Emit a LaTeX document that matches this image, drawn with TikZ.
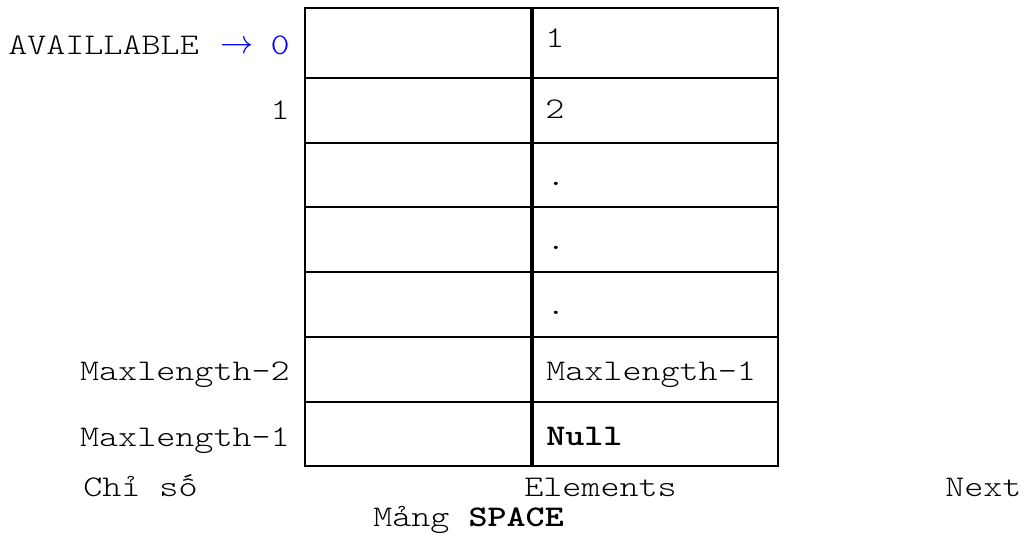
\documentclass[tikz,border=0pt]{standalone}
\usepackage{fontspec}
\setmainfont{lmmonolt10-regular.otf}[BoldFont=lmmonolt10-bold.otf,FakeStretch=1.21]
\begin{document}
\begin{tikzpicture}[x=0.75pt,y=-0.75pt,
  txt/.style={inner sep=0pt,font=\fontsize{22.5}{27}\selectfont},
  lbl/.style={txt,anchor=base east},
  val/.style={txt,anchor=base west},
  grid/.style={line width=1.5pt},
  divider/.style={line width=3pt}]
\useasboundingbox (0,0) rectangle (1032,535);
% table grid
\draw[grid] (305,8) rectangle (778,466);
\foreach \y in {78,143,207,272,337,402} \draw[grid] (305,\y) -- (778,\y);
\draw[divider] (532,8) -- (532,466);
% left labels
\node[txt,anchor=base west] (avail) at (8,55) {AVAILLABLE};
\node[inner sep=0pt,text=blue,font=\fontsize{23.5}{25}\selectfont] (arr) at (237.5,47) {$\rightarrow$};
\node[lbl,text=blue] (i0) at (290,55) {0};
\node[lbl] (i1) at (290,119) {1};
\node[lbl] (im2) at (290,380) {Maxlength-2};
\node[lbl] (im1) at (290,446) {Maxlength-1};
% right values
\node[val] (n0) at (545,48) {1};
\node[val] (n1) at (545,118) {2};
\node[val] (d1) at (546,185) {.};
\node[val] (d2) at (546,249) {.};
\node[val] (d3) at (546,314) {.};
\node[val] (nm2) at (546,380) {Maxlength-1};
\node[val] (nm1) at (546,445) {\bfseries Null};
% bottom captions
\node[val] (chiso) at (83,496) {Chỉ số};
\node[val] (elem) at (524,496) {Elements};
\node[val] (next) at (945,496) {Next};
\node[val] (mang) at (373,526) {Mảng \textbf{SPACE}};
\end{tikzpicture}
\end{document}
